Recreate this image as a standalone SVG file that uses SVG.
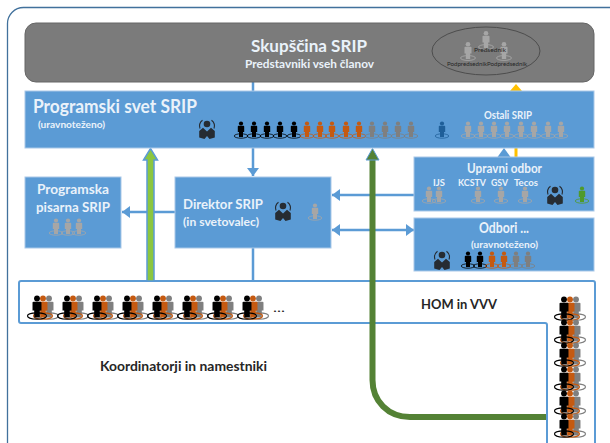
<svg xmlns="http://www.w3.org/2000/svg" width="610" height="443" viewBox="0 0 610 443">
<style>
text{font-family:"Lato","Open Sans","Liberation Sans",sans-serif;font-weight:700;fill:#eaf2fa}
.dark{fill:#262626}
.thin{font-weight:400}
.blk{color:#000}.org{color:#c55a11}.gry{color:#7f7f7f}.lgr{color:#a6a6a6}.blu{color:#1f5f99}.grn{color:#4f9a2a}.sui{color:#262c33}
.box{fill:#5b9bd5;stroke:#a9c8e8;stroke-width:1}
.ln{fill:none;stroke:#5b9bd5;stroke-width:2.5}
</style>
<defs>
<marker id="ah" markerUnits="userSpaceOnUse" markerWidth="10" markerHeight="12" refX="8" refY="6" orient="auto-start-reverse"><path d="M0,0L8,6L0,12Z" fill="#5b9bd5"/></marker>
<g id="p">
<ellipse cx="0" cy="0" rx="6.8" ry="2.2" fill="none" stroke="currentColor" stroke-width="0.8"/>
<circle cx="0" cy="-12.5" r="2.1" fill="currentColor"/>
<path d="M-3.2,-9.6Q-3.2,-10.2 -2.4,-10.2H2.4Q3.2,-10.2 3.2,-9.6V-4H2V1H-2V-4H-3.2Z" fill="currentColor"/>
</g>
<g id="d" fill="currentColor">
<circle cx="0" cy="-5" r="3.3"/>
<path d="M-4,-1.2L-7.8,2V8.5L-2.5,10L0,7L2.5,10L7.8,8.5V2L4,-1.2L0,2.5Z"/>
<path d="M-4.5,-8.8A7.5,7.5 0 0 0 -7,-0.5M4.5,-8.8A7.5,7.5 0 0 1 7,-0.5" fill="none" stroke="currentColor" stroke-width="1.1"/>
</g>
<g id="t">
<use href="#p" class="gry" transform="translate(12,0) scale(1.4)"/>
<use href="#p" class="org" transform="translate(6,0) scale(1.4)"/>
<use href="#p" class="blk" transform="scale(1.4)"/>
</g>
</defs>
<rect x="7.5" y="7.5" width="640" height="460" rx="16" fill="#fff" stroke="#41719c" stroke-width="1.3"/>

<g id="koordinatorji">
<path d="M21,281H593Q595,281 595,283V445H547V325Q547,323 545,323H21Q19,323 19,321V283Q19,281 21,281Z" fill="#fff" stroke="#5b9bd5" stroke-width="2"/>
<use href="#t" x="37" y="316"/><use href="#t" x="67" y="316"/><use href="#t" x="97" y="316"/><use href="#t" x="127" y="316"/><use href="#t" x="157" y="316"/><use href="#t" x="187" y="316"/><use href="#t" x="217" y="316"/><use href="#t" x="247" y="316"/>
<text x="273" y="312" font-size="11" textLength="12" lengthAdjust="spacingAndGlyphs" class="dark thin">...</text>
<text x="100" y="371" font-size="13.5" textLength="167" lengthAdjust="spacingAndGlyphs" class="dark">Koordinatorji in namestniki</text>
</g>
<g id="hom">
<text x="421" y="309" font-size="13.5" textLength="76" lengthAdjust="spacingAndGlyphs" class="dark">HOM in VVV</text>
<use href="#t" x="564" y="317"/><use href="#t" x="564" y="340"/><use href="#t" x="564" y="363"/><use href="#t" x="564" y="387"/><use href="#t" x="564" y="411"/><use href="#t" x="564" y="434"/>
</g>

<g id="connectors">
<path class="ln" d="M253,80V93"/>
<path class="ln" d="M253,146V176" marker-end="url(#ah)"/>
<path class="ln" d="M253,248V281"/>
<path class="ln" d="M176,212H122" marker-end="url(#ah)"/>
<path class="ln" d="M414,195H332" marker-end="url(#ah)"/>
<path class="ln" d="M332,230H414" marker-start="url(#ah)" marker-end="url(#ah)"/>
<path d="M497.5,157L504,148L510.5,157Z" fill="#5b9bd5"/>
<path d="M516,157V148" fill="none" stroke="#ffc000" stroke-width="3"/>
<path d="M510,91L516,84L522,91Z" fill="#ffc000"/>
<path d="M147,281V160H143.5L150.5,148.5L157.5,160H154V281Z" fill="#8cc63f" stroke="#5b9bd5" stroke-width="1.5"/>
<path d="M546,417H410C388,417 372.5,401 372.5,380V158" fill="none" stroke="#548235" stroke-width="6"/>
<path d="M366,160L372.5,148.5L379,160Z" fill="#548235" stroke="#5b9bd5" stroke-width="1"/>
</g>

<g id="skupscina">
<rect x="25" y="23" width="569" height="59" rx="11" fill="#7b7b7b" stroke="#666"/>
<text x="251" y="52" font-size="17" textLength="116" lengthAdjust="spacingAndGlyphs">Skupščina SRIP</text>
<text x="245" y="68" font-size="12" textLength="129" lengthAdjust="spacingAndGlyphs">Predstavniki vseh članov</text>
<ellipse cx="486" cy="51" rx="54" ry="24" fill="none" stroke="#4d4d4d" stroke-width="1"/>
<use href="#p" class="lgr" transform="translate(486,47) scale(1.1)"/><use href="#p" class="lgr" transform="translate(468,58) scale(1.1)"/><use href="#p" class="lgr" transform="translate(504,58) scale(1.1)"/>
<text x="474" y="52" font-size="5.5" textLength="32" lengthAdjust="spacingAndGlyphs" class="dark thin">Predsednik</text>
<text x="447" y="66" font-size="5.5" textLength="40" lengthAdjust="spacingAndGlyphs" class="dark thin">Podpredsednik</text>
<text x="487" y="66" font-size="5.5" textLength="40" lengthAdjust="spacingAndGlyphs" class="dark thin">Podpredsednik</text>
</g>

<g id="programski-svet">
<rect class="box" x="25" y="91" width="569" height="57"/>
<text x="33" y="113" font-size="18" textLength="164" lengthAdjust="spacingAndGlyphs">Programski svet SRIP</text>
<text x="38" y="128" font-size="9" textLength="67" lengthAdjust="spacingAndGlyphs">(uravnoteženo)</text>
<text x="484" y="119" font-size="10.5" textLength="48" lengthAdjust="spacingAndGlyphs">Ostali SRIP</text>
<use href="#d" class="sui" x="207" y="129"/>
<use href="#p" class="blk" x="241" y="136"/><use href="#p" class="blk" x="254" y="136"/><use href="#p" class="blk" x="267" y="136"/><use href="#p" class="blk" x="280" y="136"/><use href="#p" class="blk" x="294" y="136"/>
<use href="#p" class="org" x="307" y="136"/><use href="#p" class="org" x="320" y="136"/><use href="#p" class="org" x="332" y="136"/><use href="#p" class="org" x="346" y="136"/><use href="#p" class="org" x="359" y="136"/>
<use href="#p" class="gry" x="372" y="136"/><use href="#p" class="gry" x="385" y="136"/><use href="#p" class="gry" x="398" y="136"/><use href="#p" class="gry" x="411" y="136"/>
<use href="#p" class="blu" x="442" y="136"/>
<use href="#p" class="lgr" x="468" y="136"/><use href="#p" class="lgr" x="481" y="136"/><use href="#p" class="lgr" x="494" y="136"/><use href="#p" class="lgr" x="507" y="136"/><use href="#p" class="lgr" x="521" y="136"/><use href="#p" class="lgr" x="534" y="136"/><use href="#p" class="lgr" x="548" y="136"/><use href="#p" class="lgr" x="561" y="136"/>
</g>

<g id="programska-pisarna">
<rect class="box" x="25" y="177" width="96" height="71"/>
<text x="37" y="194" font-size="13.5" textLength="72" lengthAdjust="spacingAndGlyphs">Programska</text>
<text x="36" y="212" font-size="13.5" textLength="74" lengthAdjust="spacingAndGlyphs">pisarna SRIP</text>
<use href="#p" class="lgr" x="56" y="233"/><use href="#p" class="lgr" x="68" y="233"/><use href="#p" class="lgr" x="79" y="233"/>
</g>

<g id="direktor">
<rect class="box" x="175" y="177" width="156" height="71"/>
<text x="183" y="209" font-size="13.5" textLength="80" lengthAdjust="spacingAndGlyphs">Direktor SRIP</text>
<text x="183" y="226" font-size="11.5" textLength="76" lengthAdjust="spacingAndGlyphs">(in svetovalec)</text>
<use href="#d" class="sui" x="283" y="211"/>
<use href="#p" class="lgr" x="315" y="218"/>
</g>

<g id="upravni-odbor">
<rect class="box" x="414" y="157" width="180" height="54"/>
<text x="467" y="173" font-size="13.5" textLength="75" lengthAdjust="spacingAndGlyphs">Upravni odbor</text>
<text x="433" y="186" font-size="10" textLength="12" lengthAdjust="spacingAndGlyphs">IJS</text>
<text x="458" y="186" font-size="10" textLength="28" lengthAdjust="spacingAndGlyphs">KCSTV</text>
<text x="491" y="186" font-size="10" textLength="17" lengthAdjust="spacingAndGlyphs">GSV</text>
<text x="514" y="186" font-size="10" textLength="24" lengthAdjust="spacingAndGlyphs">Tecos</text>
<use href="#p" class="lgr" x="429" y="201"/><use href="#p" class="lgr" x="439" y="201"/><use href="#p" class="lgr" x="478" y="201"/><use href="#p" class="lgr" x="501" y="201"/><use href="#p" class="lgr" x="525" y="201"/>
<use href="#d" class="sui" x="555" y="195"/>
<use href="#p" class="grn" x="582" y="201"/>
</g>

<g id="odbori">
<rect class="box" x="414" y="218" width="180" height="53"/>
<text x="479" y="233" font-size="14.5" textLength="50" lengthAdjust="spacingAndGlyphs">Odbori ...</text>
<text x="471" y="248" font-size="10" textLength="67" lengthAdjust="spacingAndGlyphs">(uravnoteženo)</text>
<use href="#d" class="sui" x="442" y="260"/>
<use href="#p" class="blk" x="468" y="266"/><use href="#p" class="blk" x="480" y="266"/><use href="#p" class="org" x="492" y="266"/><use href="#p" class="org" x="504" y="266"/><use href="#p" class="gry" x="516" y="266"/><use href="#p" class="gry" x="528" y="266"/>
</g>
</svg>
